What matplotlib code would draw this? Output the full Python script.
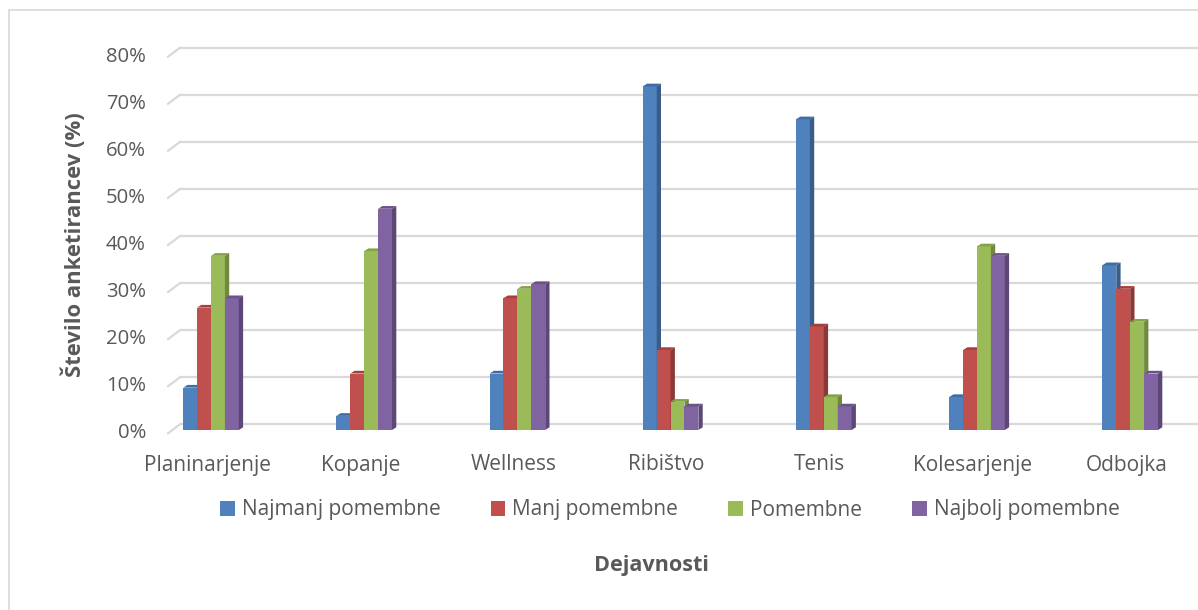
import matplotlib.pyplot as plt
from matplotlib.patches import Polygon, Patch
import numpy as np

categories = ['Planinarjenje', 'Kopanje', 'Wellness', 'Ribištvo', 'Tenis', 'Kolesarjenje', 'Odbojka']
series_names = ['Najmanj pomembne', 'Manj pomembne', 'Pomembne', 'Najbolj pomembne']
najmanj = [9, 3, 12, 73, 66, 7, 35]
manj = [26, 12, 28, 17, 22, 17, 30]
pomembne = [37, 38, 30, 6, 7, 39, 23]
najbolj = [28, 47, 31, 5, 5, 37, 12]
yticks = [0, 10, 20, 30, 40, 50, 60, 70, 80]

front_colors = ['#4F81BD', '#C0504D', '#9BBB59', '#8064A2']
side_colors = ['#385D8A', '#8C3836', '#71893F', '#5C4776']
top_colors = ['#3F6CA4', '#A43F3C', '#84A24A', '#6B5389']
text_color = '#595959'
grid_color = '#D9D9D9'

plt.rcParams['font.family'] = ['Open Sans', 'DejaVu Sans']

W, H = 1198, 610
fig = plt.figure(figsize=(W / 100, H / 100), dpi=100)

# chart border (left and top visible)
fig.add_artist(plt.Line2D([9 / W, 9 / W], [0, 1 - 10 / H], color='#D9D9D9', lw=1.2))
fig.add_artist(plt.Line2D([9 / W, 1], [1 - 10 / H, 1 - 10 / H], color='#D9D9D9', lw=1.2))

# axes: pixel geometry
ax_left, ax_right, ax_top, ax_bot = 160, 1198, 40, 440
ax = fig.add_axes([ax_left / W, 1 - ax_bot / H, (ax_right - ax_left) / W, (ax_bot - ax_top) / H])
px_x = 153.2            # px per category
c0 = 211                # px of first group center
px_y = (424.3 - 47.7) / 80  # px per percent
y0 = 424.3              # px of 0% (back wall)
ax.set_xlim((ax_left - c0) / px_x, (ax_right - c0) / px_x)
ax.set_ylim(-(ax_bot - y0) / px_y, (y0 - ax_top) / px_y)
ax.axis('off')

# gridlines on back wall with a short floor diagonal on the left
gx0 = (180 - c0) / px_x
gxd = (168 - c0) / px_x
ddy = 9 / px_y
for t in yticks:
    ax.plot([gx0, (ax_right - c0) / px_x], [t, t], color=grid_color, lw=1.6, zorder=1, solid_capstyle='butt')
    ax.plot([gxd, gx0], [t - ddy, t], color=grid_color, lw=1.6, zorder=1)
    ax.text((146 - c0) / px_x, t - ddy, f'{t}%', ha='right', va='center', fontsize=14.6, color=text_color)

# bars
series = [najmanj, manj, pomembne, najbolj]
x = np.arange(len(categories))
bw = 13.9 / px_x
base = -5.7 / px_y
dx = 4.3 / px_x
dy = 2.7 / px_y
group_left = x - 2 * bw
for k, vals in enumerate(series):
    xs = group_left + k * bw
    ax.bar(xs, vals, width=bw, bottom=base, align='edge', color=front_colors[k], zorder=3 + k, linewidth=0)
    for xi, v in zip(xs, vals):
        top = base + v
        ax.add_patch(Polygon([[xi, top], [xi + dx, top + dy], [xi + bw + dx, top + dy], [xi + bw, top]],
                             closed=True, color=top_colors[k], lw=0, zorder=3 + k))
        ax.add_patch(Polygon([[xi + bw, base], [xi + bw + dx, base + dy], [xi + bw + dx, top + dy], [xi + bw, top]],
                             closed=True, color=side_colors[k], lw=0, zorder=3 + k))

# category labels
for xi, name in zip(x, categories):
    ax.text(xi - 4 / px_x, -(465 - y0) / px_y, name, ha='center', va='center', fontsize=15, color=text_color)

# axis titles
fig.text(74 / W, 1 - 245 / H, 'Število anketirancev (%)', rotation=90, ha='center', va='center',
         fontsize=15.8, fontweight='bold', color=text_color)
fig.text(651 / W, 1 - 565 / H, 'Dejavnosti', ha='center', va='center',
         fontsize=15.6, fontweight='bold', color=text_color)

handles = [Patch(facecolor=c, edgecolor='none') for c in front_colors]
fig.legend(handles, series_names, loc='center', bbox_to_anchor=(670 / W, 1 - 510 / H), ncol=4,
           frameon=False, fontsize=15, labelcolor=text_color, handlelength=0.7, handleheight=0.7,
           handletextpad=0.35, columnspacing=2.4)

fig.savefig('out.png', dpi=100)
